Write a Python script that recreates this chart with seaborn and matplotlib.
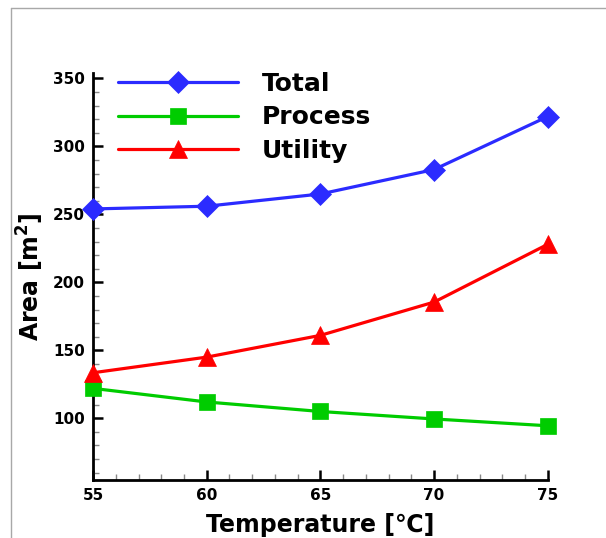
import numpy as np
import pandas as pd
import seaborn as sns
import matplotlib.pyplot as plt
from matplotlib.lines import Line2D
from matplotlib.ticker import MultipleLocator

# Data
temperature = [55, 60, 65, 70, 75]
total = [254, 256, 265, 283, 322]
process = [122, 112, 105, 99.5, 94.5]
utility = [133.5, 145, 161, 185.5, 228]
series_names = ["Total", "Process", "Utility"]

df = pd.DataFrame({
    "Temperature": temperature * 3,
    "Area": total + process + utility,
    "Series": np.repeat(series_names, len(temperature)),
})

sns.set_style("ticks")
plt.rcParams["font.family"] = ["DejaVu Sans", "Noto Sans CJK KR"]
plt.rcParams["font.weight"] = "bold"
plt.rcParams["mathtext.default"] = "bf"
plt.rcParams["text.color"] = "black"
plt.rcParams["axes.labelcolor"] = "black"
plt.rcParams["xtick.labelcolor"] = "black"
plt.rcParams["ytick.labelcolor"] = "black"

fig = plt.figure(figsize=(6.06, 5.38), dpi=100)
ax = fig.add_axes([0.1535, 0.1078, 0.7505, 0.7565])

palette = {"Total": "#2b2bff", "Process": "#00cc00", "Utility": "#ff0000"}
markers = {"Total": "D", "Process": "s", "Utility": "^"}
sizes = {"Total": 11.5, "Process": 12, "Utility": 13}

for name in series_names:
    sub = df[df["Series"] == name]
    sns.lineplot(data=sub, x="Temperature", y="Area", ax=ax, color=palette[name],
                 marker=markers[name], markersize=sizes[name], markeredgewidth=0.5,
                 markeredgecolor=palette[name], linewidth=2.3, label=name,
                 clip_on=False, zorder=3)

ax.set_xlim(55, 75)
ax.set_ylim(54.6, 354)
ax.xaxis.set_major_locator(MultipleLocator(5))
ax.xaxis.set_minor_locator(MultipleLocator(1))
ax.yaxis.set_major_locator(MultipleLocator(50))
ax.yaxis.set_minor_locator(MultipleLocator(10))
ax.set_yticks([100, 150, 200, 250, 300, 350])

sns.despine(ax=ax)
for s in ["left", "bottom"]:
    ax.spines[s].set_linewidth(2)
    ax.spines[s].set_color("black")
ax.tick_params(which="major", direction="in", length=7, width=1.8, color="black",
               labelsize=11, pad=6, labelcolor="black")
ax.tick_params(which="minor", direction="in", length=4, width=1, color="#888888")
for lbl in ax.get_xticklabels() + ax.get_yticklabels():
    lbl.set_fontweight("bold")

ax.set_xlabel("Temperature [℃]", fontsize=17, fontweight="bold", labelpad=7, color="black")
ax.set_ylabel("Area [m$^2$]", fontsize=17, fontweight="bold", labelpad=5, color="black")

leg = ax.legend(loc="upper left", bbox_to_anchor=(0.005, 1.058), frameon=False,
                handlelength=4.8, handletextpad=0.95, labelspacing=0.38,
                prop={"size": 18, "weight": "bold"})
for t in leg.get_texts():
    t.set_color("black")

# light gray outer frame (left and top edges)
fig.add_artist(Line2D([11 / 606, 11 / 606], [0, 1 - 7.5 / 538], color="#a8a8a8", lw=1))
fig.add_artist(Line2D([11 / 606, 1], [1 - 7.5 / 538, 1 - 7.5 / 538], color="#a8a8a8", lw=1))

fig.savefig("out.png", dpi=100)
